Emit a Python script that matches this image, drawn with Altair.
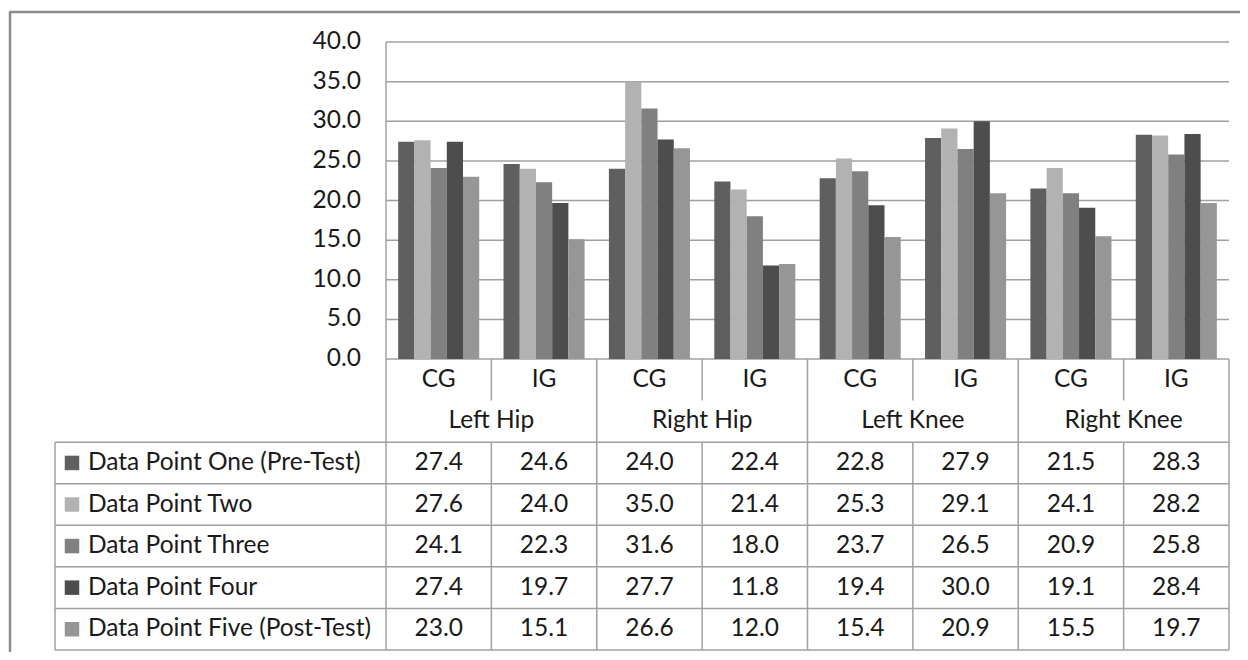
import altair as alt
import pandas as pd

# ---------------- data ----------------
groups = ["Left Hip", "Right Hip", "Left Knee", "Right Knee"]
subgroups = ["CG", "IG"]
series = [
    "Data Point One (Pre-Test)",
    "Data Point Two",
    "Data Point Three",
    "Data Point Four",
    "Data Point Five (Post-Test)",
]
colors = ["#5f5f5f", "#b2b2b2", "#808080", "#4d4d4d", "#969696"]
point_one = [27.4, 24.6, 24.0, 22.4, 22.8, 27.9, 21.5, 28.3]
point_two = [27.6, 24.0, 35.0, 21.4, 25.3, 29.1, 24.1, 28.2]
point_three = [24.1, 22.3, 31.6, 18.0, 23.7, 26.5, 20.9, 25.8]
point_four = [27.4, 19.7, 27.7, 11.8, 19.4, 30.0, 19.1, 28.4]
point_five = [23.0, 15.1, 26.6, 12.0, 15.4, 20.9, 15.5, 19.7]
y_ticks = [0, 5, 10, 15, 20, 25, 30, 35, 40]

all_values = [point_one, point_two, point_three, point_four, point_five]

# ---------------- layout constants ----------------
W = 1174          # view width (table left edge .. table right edge)
H = 608           # view height (top gridline .. table bottom)
PX0 = 331         # plot area left (pixels inside view)
PH = 317          # plot area height
FONT = "Lato"
FS = 24.5
LINE = "#a0a0a0"
TXT = "#1a1a1a"

cols = [f"{g} {s}" for g in groups for s in subgroups]

bar_rows = []
for si, (name, vals) in enumerate(zip(series, all_values)):
    for ci, v in enumerate(vals):
        bar_rows.append({
            "col": cols[ci], "ci": ci + 0.5, "series": name,
            "row": si + 2.5, "value": v,
        })
bars_df = pd.DataFrame(bar_rows)

xband = alt.Scale(domain=cols, range=[PX0, W], paddingInner=0, paddingOuter=0)
xoff = alt.Scale(domain=series, paddingInner=0, paddingOuter=0.75)
ybar = alt.Scale(domain=[0, 40], range=[PH, 0])
xcol = alt.Scale(domain=[0, 8], range=[PX0, W])
yrow = alt.Scale(domain=[0, 7], range=[PH, H])
cscale = alt.Scale(domain=series, range=colors)

# gridlines
ticks_df = pd.DataFrame({"t": y_ticks})
grid = alt.Chart(ticks_df).mark_rule(color=LINE, strokeWidth=1.5).encode(
    x=alt.value(PX0), x2=alt.value(W),
    y=alt.Y("t:Q", scale=ybar, axis=None),
)
ylabels = alt.Chart(ticks_df).mark_text(
    align="right", baseline="middle", font=FONT, fontSize=FS, color=TXT
).encode(
    x=alt.value(PX0 - 25),
    y=alt.Y("t:Q", scale=ybar, axis=None),
    text=alt.Text("t:Q", format=".1f"),
)
axis_df = pd.DataFrame({"lo": [0], "hi": [40]})
yaxis_line = alt.Chart(axis_df).mark_rule(color=LINE, strokeWidth=1.5).encode(
    x=alt.value(PX0),
    y=alt.Y("hi:Q", scale=ybar, axis=None), y2="lo:Q",
)

bars = alt.Chart(bars_df).mark_bar().encode(
    x=alt.X("col:N", scale=xband, axis=None),
    xOffset=alt.XOffset("series:N", scale=xoff),
    y=alt.Y("value:Q", scale=ybar, axis=None),
    color=alt.Color("series:N", scale=cscale, legend=None),
)

# table vertical lines (column boundaries, row spans)
vrows = []
for b in range(9):
    if b % 2 == 0:
        vrows.append({"b": b, "r0": 0, "r1": 7})
    else:
        vrows.append({"b": b, "r0": 0, "r1": 1})
        vrows.append({"b": b, "r0": 2, "r1": 7})
vlines = alt.Chart(pd.DataFrame(vrows)).mark_rule(color=LINE, strokeWidth=1.5).encode(
    x=alt.X("b:Q", scale=xcol, axis=None),
    y=alt.Y("r0:Q", scale=yrow, axis=None), y2="r1:Q",
)
left_df = pd.DataFrame({"r0": [2], "r1": [7]})
left_line = alt.Chart(left_df).mark_rule(color=LINE, strokeWidth=1.5).encode(
    x=alt.value(0),
    y=alt.Y("r0:Q", scale=yrow, axis=None), y2="r1:Q",
)
hlines = alt.Chart(pd.DataFrame({"r": [2, 3, 4, 5, 6, 7]})).mark_rule(
    color=LINE, strokeWidth=1.5
).encode(
    x=alt.value(0), x2=alt.value(W),
    y=alt.Y("r:Q", scale=yrow, axis=None),
)

# header texts
sub_df = pd.DataFrame({"c": [i + 0.5 for i in range(8)],
                       "label": [s for g in groups for s in subgroups],
                       "r": [0.5] * 8})
grp_df = pd.DataFrame({"c": [2 * i + 1 for i in range(4)], "label": groups,
                       "r": [1.5] * 4})
text_kw = dict(align="center", baseline="middle", font=FONT, fontSize=FS, color=TXT)
sub_text = alt.Chart(sub_df).mark_text(**text_kw).encode(
    x=alt.X("c:Q", scale=xcol, axis=None),
    y=alt.Y("r:Q", scale=yrow, axis=None), text="label:N",
)
grp_text = alt.Chart(grp_df).mark_text(**text_kw).encode(
    x=alt.X("c:Q", scale=xcol, axis=None),
    y=alt.Y("r:Q", scale=yrow, axis=None), text="label:N",
)
val_text = alt.Chart(bars_df).mark_text(**text_kw).encode(
    x=alt.X("ci:Q", scale=xcol, axis=None),
    y=alt.Y("row:Q", scale=yrow, axis=None),
    text=alt.Text("value:Q", format=".1f"),
)

# legend keys in the table
leg_df = pd.DataFrame({"series": series, "row": [i + 2.5 for i in range(5)]})
leg_sq = alt.Chart(leg_df).mark_square(size=210, opacity=1).encode(
    x=alt.value(17),
    y=alt.Y("row:Q", scale=yrow, axis=None),
    color=alt.Color("series:N", scale=cscale, legend=None),
)
leg_txt = alt.Chart(leg_df).mark_text(
    align="left", baseline="middle", font=FONT, fontSize=FS, color=TXT
).encode(
    x=alt.value(33),
    y=alt.Y("row:Q", scale=yrow, axis=None),
    text="series:N",
)

# outer chart border (left + top)
border_df = pd.DataFrame({"k": [0]})
border_left = alt.Chart(border_df).mark_rule(color="#8c8c8c", strokeWidth=2.5).encode(
    x=alt.value(-45), y=alt.value(-30), y2=alt.value(H + 20),
)
border_top = alt.Chart(border_df).mark_rule(color="#8c8c8c", strokeWidth=2.5).encode(
    x=alt.value(-46), x2=alt.value(W + 30), y=alt.value(-30),
)

chart = alt.layer(
    grid, yaxis_line, bars, vlines, left_line, hlines,
    ylabels, sub_text, grp_text, val_text, leg_sq, leg_txt,
    border_left, border_top,
).resolve_scale(x="independent", y="independent", color="shared").properties(
    width=W, height=H,
    autosize=alt.AutoSizeParams(type="none"),
    padding={"left": 47, "top": 34, "right": 11, "bottom": 2},
).configure_view(stroke=None)

chart.save("out.html", embed_options={"renderer": "svg", "actions": False})
